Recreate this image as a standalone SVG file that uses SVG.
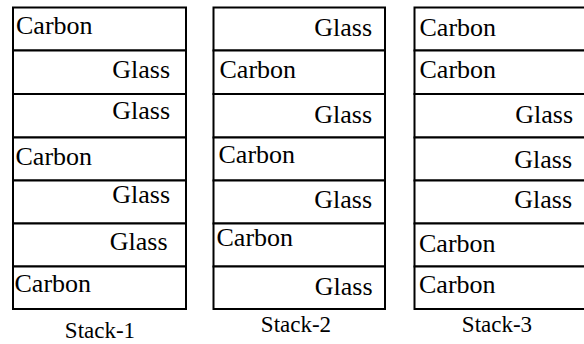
<svg xmlns="http://www.w3.org/2000/svg" width="584" height="344" viewBox="0 0 584 344">
  <style>
    .layer { fill: #ffffff; stroke: #000000; stroke-width: 2; }
    .ply-right { text-anchor: end; }
    .stack-caption { text-anchor: middle; }
  </style>
  <rect width="584" height="344" fill="#ffffff"/>

  <!-- Stack 1: seven plies, top to bottom -->
  <g id="stack-1">
    <rect class="layer" x="13" y="7.5" width="173" height="43"/>
    <rect class="layer" x="13" y="50.5" width="173" height="43.5"/>
    <rect class="layer" x="13" y="94" width="173" height="43.5"/>
    <rect class="layer" x="13" y="137.5" width="173" height="43"/>
    <rect class="layer" x="13" y="180.5" width="173" height="43"/>
    <rect class="layer" x="13" y="223.5" width="173" height="43"/>
    <rect class="layer" x="13" y="266.5" width="173" height="42.5"/>
  </g>
  <!-- Stack 2 -->
  <g id="stack-2">
    <rect class="layer" x="213.5" y="7.5" width="171.5" height="43"/>
    <rect class="layer" x="213.5" y="50.5" width="171.5" height="43.5"/>
    <rect class="layer" x="213.5" y="94" width="171.5" height="43.5"/>
    <rect class="layer" x="213.5" y="137.5" width="171.5" height="43"/>
    <rect class="layer" x="213.5" y="180.5" width="171.5" height="43"/>
    <rect class="layer" x="213.5" y="223.5" width="171.5" height="43"/>
    <rect class="layer" x="213.5" y="266.5" width="171.5" height="42.5"/>
  </g>
  <!-- Stack 3 -->
  <g id="stack-3">
    <rect class="layer" x="414.5" y="7.5" width="172" height="43"/>
    <rect class="layer" x="414.5" y="50.5" width="172" height="43.5"/>
    <rect class="layer" x="414.5" y="94" width="172" height="43.5"/>
    <rect class="layer" x="414.5" y="137.5" width="172" height="43"/>
    <rect class="layer" x="414.5" y="180.5" width="172" height="43"/>
    <rect class="layer" x="414.5" y="223.5" width="172" height="43"/>
    <rect class="layer" x="414.5" y="266.5" width="172" height="42.5"/>
  </g>

  <!-- Ply names -->
  <g id="ply-labels" font-family="'Liberation Serif', serif" font-size="26" fill="#000000">
    <text x="16" y="33.5">Carbon</text>
    <text class="ply-right" x="170" y="77.5">Glass</text>
    <text class="ply-right" x="170" y="118.5">Glass</text>
    <text x="15.5" y="165">Carbon</text>
    <text class="ply-right" x="170" y="202.5">Glass</text>
    <text class="ply-right" x="167.5" y="250">Glass</text>
    <text x="14.5" y="291.5">Carbon</text>

    <text class="ply-right" x="372" y="36">Glass</text>
    <text x="219.5" y="78">Carbon</text>
    <text class="ply-right" x="372" y="122.5">Glass</text>
    <text x="218.5" y="163">Carbon</text>
    <text class="ply-right" x="372" y="208">Glass</text>
    <text x="216.5" y="246">Carbon</text>
    <text class="ply-right" x="372.5" y="295">Glass</text>

    <text x="419.5" y="36">Carbon</text>
    <text x="419.5" y="78">Carbon</text>
    <text class="ply-right" x="573" y="122.5">Glass</text>
    <text class="ply-right" x="572" y="167.5">Glass</text>
    <text class="ply-right" x="572" y="207.5">Glass</text>
    <text x="419" y="251.5">Carbon</text>
    <text x="419" y="292.5">Carbon</text>
  </g>

  <!-- Stack captions -->
  <g id="captions" font-family="'Liberation Serif', serif" font-size="23" fill="#000000">
    <text class="stack-caption" x="100" y="338">Stack-1</text>
    <text class="stack-caption" x="296" y="331.5">Stack-2</text>
    <text class="stack-caption" x="497" y="331.5">Stack-3</text>
  </g>
</svg>
